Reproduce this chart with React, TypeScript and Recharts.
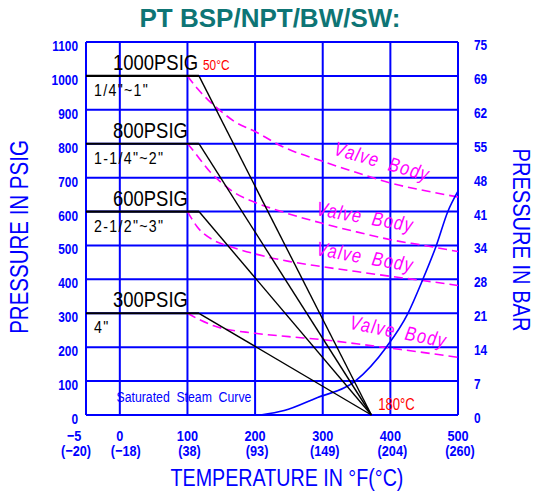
import React from "react";
import { CartesianGrid, Line, LineChart, ReferenceDot, XAxis, YAxis } from "recharts";

// temperature axis: the -5°F column is drawn at half a step, so it sits at -50 on the scale
const tempTicks = [-50, 0, 100, 200, 300, 400, 500];
const tempF = ["−5", "0", "100", "200", "300", "400", "500"];
const tempC = ["(−20)", "(−18)", "(38)", "(93)", "(149)", "(204)", "(260)"];

const psigTicks = [0, 100, 200, 300, 400, 500, 600, 700, 800, 900, 1000, 1100];
const barLabels = ["0", "7", "14", "21", "28", "34", "41", "48", "55", "62", "69", "75"];

// seat ratings: flat to ~50°C then straight down to 0 at ~180°C
const ratings = [1000, 800, 600, 300];
const ratingNames = ["1000PSIG", "800PSIG", "600PSIG", "300PSIG"];
const sizeNames = ["1/4\"~1\"", "1-1/4\"~2\"", "2-1/2\"~3\"", "4\""];
const flatEndF = 117;
const zeroF = 372;

// valve body curves (°F, psig)
const body1000T = [100, 115, 130, 147, 170, 200, 240, 300, 350, 400, 450, 500];
const body1000P = [1000, 962, 930, 900, 865, 836, 792, 748, 715, 684, 662, 643];
const body800T = [100, 110, 119, 133, 148, 170, 200, 239, 298, 350, 400, 450, 500];
const body800P = [800, 776, 753, 718, 689, 655, 627, 600, 566, 540, 517, 500, 482];
const body600T = [100, 106, 114, 139, 163, 200, 250, 297, 350, 400, 450, 500];
const body600P = [600, 580, 556, 515, 497, 475, 453, 438, 423, 409, 396, 382];
const body300T = [100, 119, 139, 200, 250, 300, 350, 400, 450, 500];
const body300P = [300, 280, 263, 241, 231, 222, 210, 197, 184, 170];

// saturated steam curve
const steamT = [208, 243, 289, 348, 394, 426, 448, 468, 485, 500];
const steamP = [0, 13, 49, 100, 200, 300, 400, 500, 600, 660];

const BLUE = "#0000ff";
const MAGENTA = "#ff00ff";
const SANS = '"Liberation Sans", Arial, sans-serif';

const toPoints = (xs: number[], ys: number[]) => xs.map((x, i) => ({ x, y: ys[i] }));

// narrow lettering, like the CAD font of the original drawing
function NText({
  x,
  y,
  rotate = 0,
  sx = 0.82,
  children,
  ...rest
}: {
  x: number;
  y: number;
  rotate?: number;
  sx?: number;
  children: React.ReactNode;
  [k: string]: any;
}) {
  return (
    <text transform={`translate(${x} ${y}) rotate(${rotate}) scale(${sx} 1)`} fontFamily={SANS} {...rest}>
      {children}
    </text>
  );
}

const PsigTick = ({ x, y, payload }: any) => (
  <NText x={x} y={y + 9} textAnchor="end" fill={BLUE} fontSize={14.5} fontWeight="bold">
    {payload.value}
  </NText>
);

const BarTick = ({ x, y, payload }: any) => (
  <NText x={x} y={y + 8} textAnchor="start" fill={BLUE} fontSize={14.5} fontWeight="bold">
    {barLabels[psigTicks.indexOf(payload.value)]}
  </NText>
);

const TempTick = ({ x, y, payload }: any) => {
  const i = tempTicks.indexOf(payload.value);
  const shift = i === 0 ? -12 : 0;
  return (
    <g fill={BLUE} fontSize={15.5} fontWeight="bold" textAnchor="middle">
      <NText x={x + shift} y={y + 26}>{tempF[i]}</NText>
      <NText x={x + shift + (i === 1 ? 6 : 2)} y={y + 41}>{tempC[i]}</NText>
    </g>
  );
};

const note = (key: string, x: number, y: number, draw: (cx: number, cy: number) => React.ReactElement) => (
  <ReferenceDot key={key} x={x} y={y} r={1} ifOverflow="visible" shape={(p: any) => draw(p.cx, p.cy)} />
);

export default function App() {
  const bodies = [
    toPoints(body1000T, body1000P),
    toPoints(body800T, body800P),
    toPoints(body600T, body600P),
    toPoints(body300T, body300P),
  ];
  const steam = toPoints(steamT, steamP);

  const valveLabels = [
    { x: 385, y: 746, angle: 16 },
    { x: 361, y: 582, angle: 10 },
    { x: 361, y: 464, angle: 10 },
    { x: 410, y: 244, angle: 11 },
  ];

  return (
    <div style={{ position: "absolute", left: 0, top: 0, width: 537, height: 493, background: "#fff" }}>
      <LineChart width={537} height={493} margin={{ top: 42, right: 0, bottom: 0, left: 0 }}>
        <CartesianGrid stroke={BLUE} strokeWidth={2} fill="none" />
        <XAxis
          type="number"
          dataKey="x"
          domain={[-50, 500]}
          ticks={tempTicks}
          allowDataOverflow
          height={78}
          axisLine={false}
          tickLine={false}
          tickSize={0}
          tickMargin={0}
          tick={<TempTick />}
        />
        <YAxis
          type="number"
          domain={[0, 1100]}
          ticks={psigTicks}
          width={86}
          axisLine={false}
          tickLine={false}
          tickSize={0}
          tickMargin={8}
          tick={<PsigTick />}
        />
        <YAxis
          yAxisId="bar"
          orientation="right"
          type="number"
          domain={[0, 1100]}
          ticks={psigTicks}
          width={79}
          axisLine={false}
          tickLine={false}
          tickSize={0}
          tickMargin={16}
          tick={<BarTick />}
        />

        {bodies.map((pts, i) => (
          <Line
            key={"body" + i}
            data={pts}
            dataKey="y"
            type="monotone"
            stroke={MAGENTA}
            strokeWidth={1.6}
            strokeDasharray="9 5"
            dot={false}
            activeDot={false}
            isAnimationActive={false}
          />
        ))}

        {/* psig and bar axes share the same 0-1100 range */}
        <Line
          yAxisId="bar"
          data={steam}
          dataKey="y"
          type="monotone"
          stroke={BLUE}
          strokeWidth={1.6}
          dot={false}
          activeDot={false}
          isAnimationActive={false}
        />

        {ratings.map((p) => (
          <Line
            key={"flat" + p}
            data={[{ x: -50, y: p }, { x: flatEndF, y: p }]}
            dataKey="y"
            type="linear"
            stroke="#000"
            strokeWidth={2.2}
            dot={false}
            activeDot={false}
            isAnimationActive={false}
          />
        ))}
        {ratings.map((p) => (
          <Line
            key={"drop" + p}
            data={[{ x: flatEndF, y: p }, { x: zeroF, y: 0 }]}
            dataKey="y"
            type="linear"
            stroke="#000"
            strokeWidth={1.4}
            dot={false}
            activeDot={false}
            isAnimationActive={false}
          />
        ))}

        {ratings.map((p, i) =>
          note("rn" + i, -10, p, (cx, cy) => (
            <NText x={cx} y={cy - 6} fontSize={22.5} fill="#000">
              {ratingNames[i]}
            </NText>
          ))
        )}
        {ratings.map((p, i) =>
          note("sz" + i, -38, p, (cx, cy) => (
            <NText x={cx} y={cy + 20} fontSize={16.5} sx={0.86} letterSpacing={1.5} fill="#000">
              {sizeNames[i]}
            </NText>
          ))
        )}
        {valveLabels.map((v, i) =>
          note("vb" + i, v.x, v.y, (cx, cy) => (
            <NText
              x={cx}
              y={cy + 6}
              rotate={v.angle}
              textAnchor="middle"
              fontSize={20}
              fontStyle="italic"
              letterSpacing={1.5}
              wordSpacing={5}
              fill={MAGENTA}
            >
              Valve Body
            </NText>
          ))
        )}
        {note("t50", 123, 1000, (cx, cy) => (
          <NText x={cx} y={cy - 6} fontSize={14.5} fill="#ff0000">
            50°C
          </NText>
        ))}
        {note("t180", 382, 15, (cx, cy) => (
          <NText x={cx} y={cy} fontSize={16} fill="#ff0000">
            180°C
          </NText>
        ))}
        {note("steam", -5, 38, (cx, cy) => (
          <NText x={cx} y={cy} fontSize={15} wordSpacing={4} fill={BLUE}>
            Saturated Steam Curve
          </NText>
        ))}
      </LineChart>

      <svg width={537} height={493} style={{ position: "absolute", left: 0, top: 0, pointerEvents: "none" }}>
        <text x={270} y={27} textAnchor="middle" fontFamily={SANS} fontSize={26} fontWeight="bold" fill="#0e7575">
          PT BSP/NPT/BW/SW:
        </text>
        <NText x={28} y={237} rotate={-90} textAnchor="middle" fontSize={25} fill={BLUE}>
          PRESSURE IN PSIG
        </NText>
        <NText x={513} y={240} rotate={90} textAnchor="middle" fontSize={24.5} fill={BLUE}>
          PRESSURE IN BAR
        </NText>
        <NText x={287} y={486} textAnchor="middle" fontSize={24} fill={BLUE}>
          TEMPERATURE IN °F(°C)
        </NText>
      </svg>
    </div>
  );
}
